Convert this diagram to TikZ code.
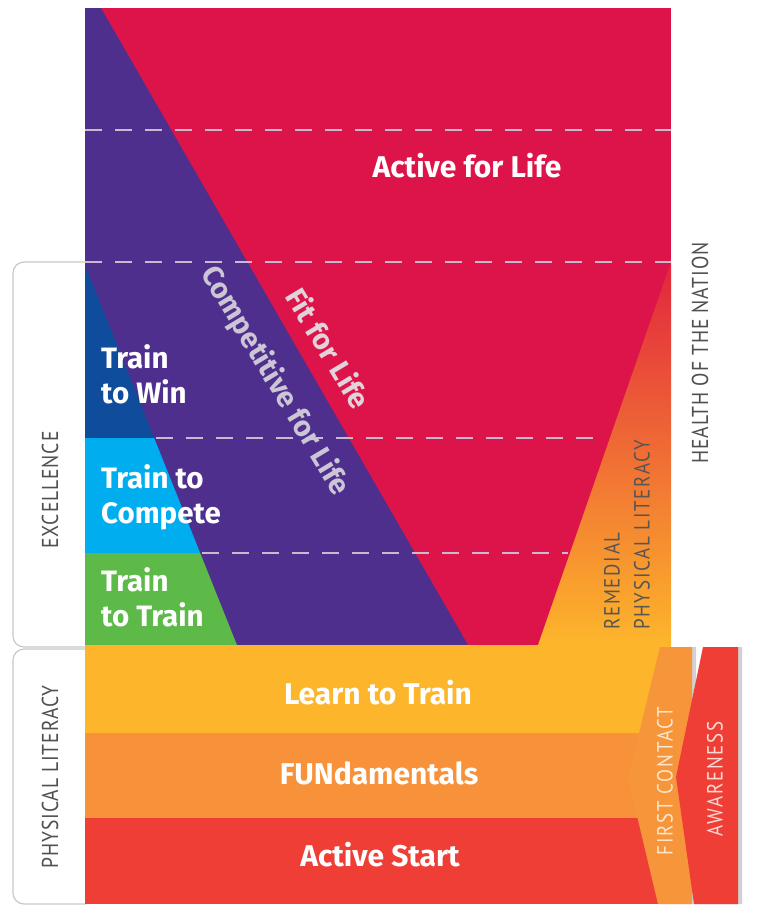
\documentclass[tikz,border=0pt]{standalone}
\usepackage{fontspec}
\setmainfont{Fira Sans}
\newfontfamily\condfont[FakeStretch=0.85,LetterSpace=4]{PT Sans}
\newfontfamily\spacedfont[FakeStretch=0.86,LetterSpace=8]{PT Sans}
\definecolor{pinkc}{HTML}{DD1449}
\definecolor{purplec}{HTML}{4E2F8D}
\definecolor{darkbluec}{HTML}{0F4C9B}
\definecolor{lightbluec}{HTML}{00AEEF}
\definecolor{greenc}{HTML}{5DB948}
\definecolor{yellowc}{HTML}{FDB62B}
\definecolor{orangec}{HTML}{F7923A}
\definecolor{redc}{HTML}{EE3E36}
\definecolor{chevorange}{HTML}{F7953B}
\definecolor{dashc}{HTML}{CBBACD}
\definecolor{labelgray}{HTML}{505050}
\definecolor{remgray}{HTML}{5A5550}
\definecolor{diaggray}{HTML}{CBC5D6}
\definecolor{fitgray}{HTML}{E2D3DB}
\definecolor{boxline}{HTML}{C8C8C8}
\definecolor{creamc}{HTML}{FBE6CC}
\definecolor{awarec}{HTML}{FADAD2}
\tikzset{
  dashline/.style={draw=dashc,line width=2pt,dash pattern=on 17pt off 13pt},
  whitelabel/.style={text=white,font=\bfseries\fontsize{30}{35}\selectfont,inner sep=0pt},
  trainlabel/.style={text=white,font=\bfseries\fontsize{29.5}{35}\selectfont,inner sep=0pt,align=left,anchor=west},
  sidelabel/.style={text=labelgray,font=\condfont\fontsize{23}{27}\selectfont,inner sep=0pt,rotate=90},
  spacedlabel/.style={font=\spacedfont\fontsize{22}{30}\selectfont,inner sep=0pt,rotate=90},
  diaglabel/.style={font=\bfseries\fontsize{29}{34}\selectfont,inner sep=0pt,rotate=-59},
  boxedge/.style={draw=boxline,line width=1.2pt,rounded corners=11pt}
}
\begin{document}
\begin{tikzpicture}[x=1pt,y=-1pt]
\useasboundingbox (0,0) rectangle (758,906);
\fill[white] (0,0) rectangle (758,906);
% side boxes
\draw[boxedge] (86,262) -- (13,262) -- (13,647) -- (86,647);
\draw[boxedge] (86,649) -- (13,649) -- (13,904) -- (86,904);
% main panel
\fill[pinkc] (85,8) rectangle (671,645);
\fill[purplec] (85,8) -- (101,8) -- (468,645) -- (85,645) -- cycle;
\fill[darkbluec] (85,265) -- (154.2,438) -- (85,438) -- cycle;
\fill[lightbluec] (85,438) -- (154.2,438) -- (200.2,553) -- (85,553) -- cycle;
\fill[greenc] (85,553) -- (200.2,553) -- (237,645) -- (85,645) -- cycle;
\shade[top color=pinkc!85!orange, middle color=orangec!80!pinkc, bottom color=yellowc] (538,645) -- (671,262) -- (671,645) -- cycle;
% dashed lines
\draw[dashline] (85,130) -- (671,130);
\draw[dashline] (85,262) -- (671,262);
\draw[dashline] (156,438) -- (598,438);
\draw[dashline] (202,553) -- (568,553);
% bottom bands
\fill[yellowc] (85,645) rectangle (671,733);
\fill[orangec] (85,733) rectangle (671,818);
\fill[redc] (85,818) rectangle (671,904);
% chevrons
\fill[black,opacity=0.18] (663,647) -- (696,647) -- (696,904) -- (661,904) -- (631,778) -- cycle;
\fill[chevorange] (660,647) -- (692,647) -- (692,904) -- (658,904) -- (628,778) -- cycle;
\fill[black,opacity=0.18] (706,647) -- (742,647) -- (742,904) -- (697,904) -- (679,777) -- cycle;
\fill[redc] (703,647) -- (738,647) -- (738,904) -- (694,904) -- (676,777) -- cycle;
% labels
\node[whitelabel] (afl) at (467,166) {Active for Life};
\node[trainlabel] (ttw) at (101,374) {Train\\to Win};
\node[trainlabel] (ttc) at (101,497) {Train to\\Compete};
\node[trainlabel] (ttt) at (101,597) {Train\\to Train};
\node[diaglabel,text=diaggray] (cfl) at (275,381) {Competitive for Life};
\node[diaglabel,text=fitgray] (ffl) at (329,348) {Fit for Life};
\node[whitelabel] (ltt) at (378,693) {Learn to Train};
\node[whitelabel] (fun) at (379,773) {FUNdamentals};
\node[whitelabel] (as) at (380,855) {Active Start};
\node[sidelabel] (exc) at (50,490) {EXCELLENCE};
\node[sidelabel] (pl) at (50,777) {PHYSICAL LITERACY};
\node[sidelabel,font=\condfont\fontsize{23}{27}\selectfont] (hotn) at (700,353) {HEALTH OF THE NATION};
\node[spacedlabel,align=left,anchor=west,text=remgray] (rpl) at (627,630) {REMEDIAL\\PHYSICAL LITERACY};
\node[spacedlabel,text=creamc] (fc) at (665,781) {FIRST CONTACT};
\node[spacedlabel,text=awarec] (aw) at (715,779) {AWARENESS};
\end{tikzpicture}
\end{document}
